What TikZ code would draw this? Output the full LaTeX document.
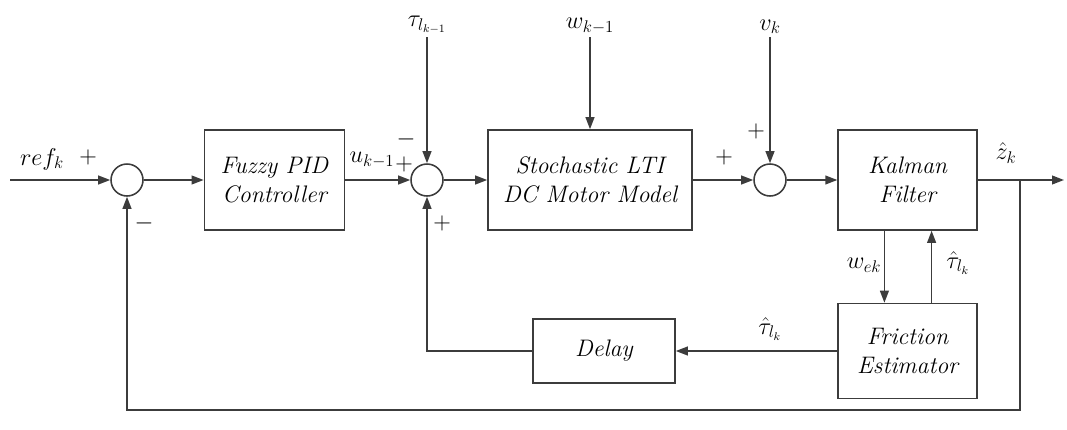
\documentclass[tikz,border=0pt]{standalone}
\usepackage{xcolor}
\definecolor{linegray}{RGB}{60, 60, 60}
\usepackage{tikz}
\usetikzlibrary{arrows.meta, positioning, calc}

\begin{document}
\begin{tikzpicture}[
      blockbox/.style={rectangle, draw=linegray, line width=1.1pt, minimum height=2.5cm, minimum width=3.5cm, align=center, font=\fontsize{17}{21}\selectfont\itshape},
      sumnode/.style={circle, draw=linegray, line width=1.1pt, minimum size=0.8cm, inner sep=0pt},
      lbl/.style={font=\fontsize{17}{20}\selectfont, inner sep=1pt},
      arr/.style={-{Triangle[length=0.3cm, width=0.22cm]}, line width=1.1pt, linegray}
  ]
    \useasboundingbox (0,0) rectangle (26.675,10.725);

    % Forward path
    \coordinate (in) at (0.25, 6.225);
    \node[sumnode] (sum1) at (3.175, 6.225) {};
    \node[blockbox] (pid) at (6.86, 6.225) {Fuzzy PID\\Controller};
    \node[sumnode] (sum2) at (10.675, 6.225) {};
    \node[blockbox, minimum width=5.1cm] (lti) at (14.75, 6.225) {Stochastic LTI\\DC Motor Model};
    \node[sumnode] (sum3) at (19.25, 6.225) {};
    \node[blockbox, minimum width=3.475cm] (kf) at (22.69, 6.225) {Kalman\\Filter};
    \coordinate (br) at (25.5, 6.225);
    \coordinate (out) at (26.6, 6.225);

    % Lower row
    \node[blockbox, minimum width=3.475cm, minimum height=2.375cm] (fe) at (22.69, 1.95) {Friction\\Estimator};
    \node[blockbox, minimum width=3.55cm, minimum height=1.6cm] (delay) at (15.1, 1.95) {Delay};
    \coordinate (fb) at (25.5, 0.475);

    % Disturbance inputs
    \coordinate (d1) at (10.675, 9.8);
    \coordinate (d2) at (14.75, 9.8);
    \coordinate (d3) at (19.25, 9.8);
    \node[lbl, above=1pt] (tl) at (d1) {$\tau_{l_{k-1}}$};
    \node[lbl, above=1pt] (wl) at (d2) {$w_{k-1}$};
    \node[lbl, above=1pt] (vl) at (d3) {$v_k$};

    % Signal labels and signs
    \node[lbl] (refl) at (1.05, 6.75) {$ref_k$};
    \node[lbl] (p1) at (2.2, 6.8) {$+$};
    \node[lbl] (m1) at (3.6, 5.15) {$-$};
    \node[lbl] (ul) at (9.3, 6.72) {$u_{k-1}$};
    \node[lbl] (p2) at (10.1, 6.62) {$+$};
    \node[lbl] (m2) at (10.15, 7.25) {$-$};
    \node[lbl] (p3) at (11.05, 5.15) {$+$};
    \node[lbl] (p4) at (18.1, 6.8) {$+$};
    \node[lbl] (p5) at (18.9, 7.45) {$+$};
    \node[lbl] (zl) at (25.15, 6.9) {$\hat{z}_k$};
    \node[lbl] (wel) at (21.6, 4.1) {$w_{ek}$};
    \node[lbl] (tel) at (23.95, 4.15) {$\hat{\tau}_{l_k}$};
    \node[lbl] (tdl) at (19.25, 2.5) {$\hat{\tau}_{l_k}$};

    % Connections
    \draw[arr] (in) -- (sum1); \draw[arr] (sum1) -- (pid); \draw[arr] (pid) -- (sum2);
    \draw[arr] (sum2) -- (lti); \draw[arr] (lti) -- (sum3); \draw[arr] (sum3) -- (kf);
    \draw[arr] (kf) -- (out);
    \draw[arr] (d1) -- (sum2); \draw[arr] (d2) -- (lti); \draw[arr] (d3) -- (sum3);
    \draw[arr] ([xshift=-0.58cm]kf.south) -- ([xshift=-0.58cm]fe.north);
    \draw[arr] ([xshift=0.6cm]fe.north) -- ([xshift=0.6cm]kf.south);
    \draw[arr] (fe) -- (delay);
    \draw[arr] (delay) -| (sum2);
    \draw[arr] (br) -- (fb) -| (sum1);
  \end{tikzpicture}
\end{document}
